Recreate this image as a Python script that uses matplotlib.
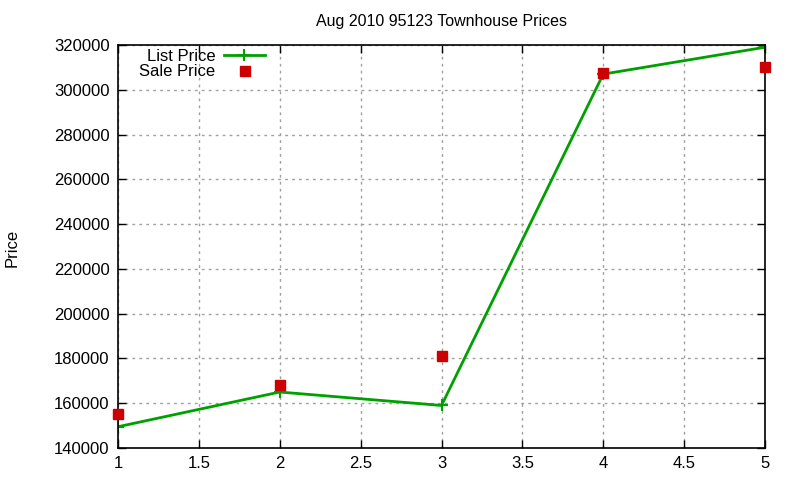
import matplotlib
matplotlib.use("Agg")
import matplotlib.pyplot as plt

# Aug 2010 95123 townhouse prices
x_vals = [1, 2, 3, 4, 5]
list_price = [149500, 165000, 159000, 307000, 319000]
sale_price = [155000, 168000, 181000, 307500, 310000]

x_ticks = [1, 1.5, 2, 2.5, 3, 3.5, 4, 4.5, 5]
y_ticks = list(range(140000, 320001, 20000))

plt.rcParams["font.family"] = ["Liberation Sans", "DejaVu Sans"]
plt.rcParams["font.size"] = 12

fig = plt.figure(figsize=(8, 4.8), dpi=100)
ax = fig.add_axes([118 / 800, 1 - 448 / 480, (765 - 118) / 800, (448 - 45) / 480])

ax.plot(x_vals, list_price, color="#00a000", linewidth=2, marker="+",
        markersize=9, markeredgewidth=1.5, label="List Price")
ax.plot(x_vals, sale_price, color="#cc0000", linestyle="none", marker="s",
        markersize=7, label="Sale Price", clip_on=False, zorder=5)

ax.set_xlim(1, 5)
ax.set_ylim(140000, 320000)
ax.set_xticks(x_ticks)
ax.set_xticklabels([f"{t:g}" for t in x_ticks])
ax.set_yticks(y_ticks)
ax.set_yticklabels([str(t) for t in y_ticks])
ax.tick_params(direction="in", top=True, right=True, length=6, width=1,
               labelsize=12, pad=6)
for s in ax.spines.values():
    s.set_linewidth(1.2)
ax.grid(True, color="#a0a0a0", linestyle=(0, (2, 3)), linewidth=1)

ax.set_title("Aug 2010 95123 Townhouse Prices", fontsize=11.5, pad=14)
fig.text(12 / 800, 1 - 248 / 480, "Price", rotation=90, va="center",
         ha="center", fontsize=12)

leg = ax.legend(loc="upper right", bbox_to_anchor=(272 / 800, 1 - 42 / 480),
                bbox_transform=fig.transFigure, frameon=False,
                markerfirst=False, handlelength=2.5, fontsize=12,
                borderaxespad=0, borderpad=0.4, labelspacing=0.05,
                handletextpad=0.5)
for t in leg.get_texts():
    t.set_ha("right")

fig.savefig("out.png", dpi=100)
